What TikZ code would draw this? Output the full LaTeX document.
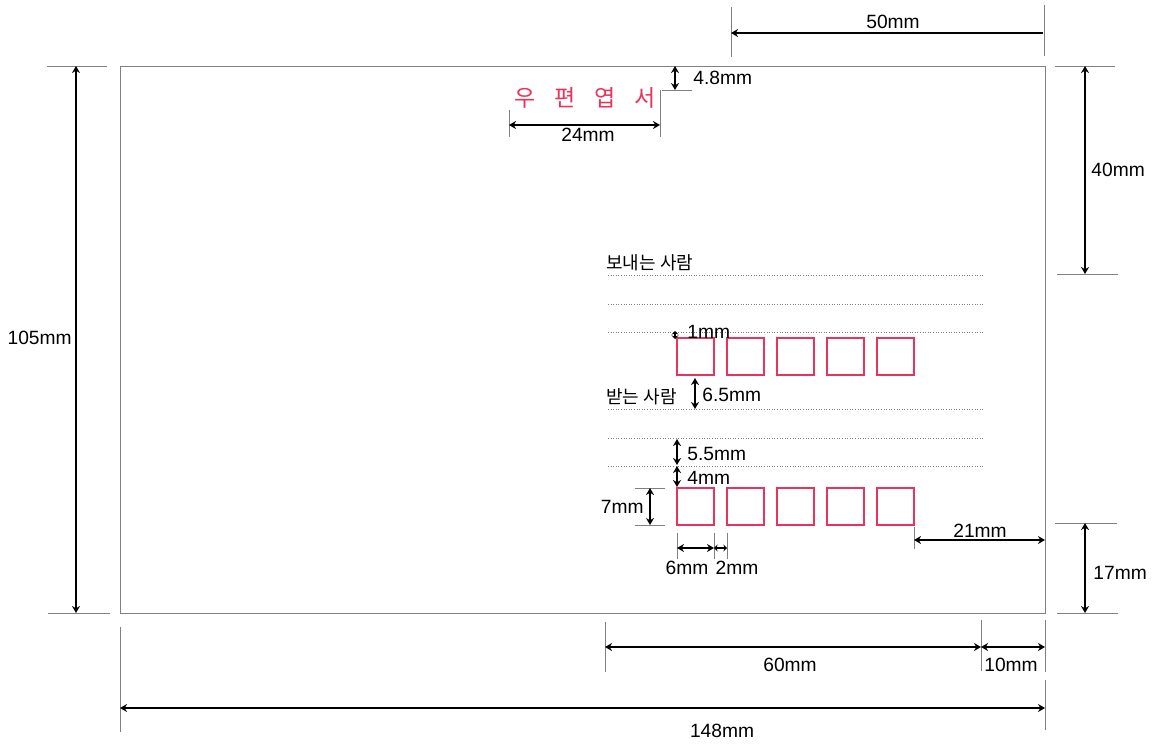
\documentclass[tikz,border=0pt]{standalone}
\usepackage{fontspec}
\usepackage{tikz}
\usepackage{xcolor}
\usetikzlibrary{calc,arrows.meta}
\setmainfont{Liberation Sans}
\newfontfamily\krfont{Noto Sans CJK KR}
\definecolor{stampredc}{HTML}{E8335A}
\colorlet{guidec}{black!50}
\tikzstyle{card} =[
    draw=guidec,
    line width=0.45pt
    ]
\tikzstyle{ext} =[
    draw=guidec,
    line width=0.45pt
    ]
\tikzstyle{dim} =[
    line width=1.1pt,
    {Stealth[length=3.5pt,width=4pt]}-{Stealth[length=3.5pt,width=4pt]}
    ]
\tikzstyle{tinydim} =[
    line width=1.1pt,
    {Stealth[length=1.8pt,width=3.5pt]}-{Stealth[length=1.8pt,width=3.5pt]}
    ]
\tikzstyle{lbl} =[
    font=\fontsize{9.6}{11}\selectfont,
    inner sep=1pt
    ]
\tikzstyle{krlbl} =[
    font=\krfont\fontsize{9}{10}\selectfont,
    inner sep=1pt
    ]
\tikzstyle{zipbox} =[
    draw=stampredc,
    line width=0.75pt,
    minimum size=18.5pt,
    inner sep=0pt
    ]
\tikzstyle{writeline} =[
    draw=guidec,
    line width=0.5pt,
    dash pattern=on 0.4pt off 0.9pt
    ]

\begin{document}
\begin{tikzpicture}[x=0.5pt,y=-0.5pt]
\useasboundingbox (0,0) rectangle (1154,744);

% card outline
\draw[card] (120,66) coordinate (cardnw) rectangle (1045,613) coordinate (cardse);
\coordinate (cardne) at (1045,66);
\coordinate (cardsw) at (120,613);

% title
\node[font=\krfont\fontsize{11.5}{12}\selectfont, text=stampredc, inner sep=0pt] (title)
    at (585,98) {\spaceskip=9.5pt 우 편 엽 서};

% writing lines
\foreach \y/\n in {275/s1,304/s2,332/s3,409/r1,438/r2,466/r3}
    \draw[writeline] (608,\y) coordinate (\n w) -- (984,\y) coordinate (\n e);
\node[krlbl, anchor=south west] (sender) at (604,273) {보내는 사람};
\node[krlbl, anchor=south west] (receiver) at (604,407) {받는 사람};

% zip code boxes
\foreach \i in {0,...,4}{
    \node[zipbox] (top\i) at ({695.5+50*\i},356.5) {};
    \node[zipbox] (bot\i) at ({695.5+50*\i},506.5) {};
}

% 50mm
\draw[ext] (731,7) -- (731,57);
\draw[ext] (1044,5) -- (1044,56);
\draw[line width=1.1pt, -{Stealth[length=3.5pt,width=4pt]}] (1043,33) -- (731,33);
\node[lbl] (l50) at (893,22) {50mm};

% 105mm
\draw[ext] (47,66) -- (107,66);
\draw[ext] (48,613) -- (110,613);
\draw[dim] (76,66) -- (76,613);
\node[lbl, anchor=east] (l105) at (74,338) {105mm};

% 40mm and 17mm
\draw[ext] (1055,66) -- (1115,66);
\draw[ext] (1057,274) -- (1118,274);
\draw[dim] (1085,66) -- (1085,274);
\node[lbl, anchor=west] (l40) at (1089,170) {40mm};
\draw[ext] (1055,523) -- (1117,523);
\draw[ext] (1057,613) -- (1118,613);
\draw[dim] (1085,523) -- (1085,613);
\node[lbl, anchor=west] (l17) at (1091,573) {17mm};

% 60mm, 10mm, 148mm
\draw[ext] (605,622) -- (605,672);
\draw[ext] (981,620) -- (981,671);
\draw[ext] (1045,620) -- (1045,672);
\draw[dim] (605,647) -- (981,647);
\draw[dim] (981,647) -- (1045,647);
\node[lbl] (l60) at (790,665) {60mm};
\node[lbl] (l10) at (1011,665) {10mm};
\draw[ext] (120,627) -- (120,732);
\draw[ext] (1045,680) -- (1045,730);
\draw[dim] (120,708) -- (1045,708);
\node[lbl] (l148) at (722,731) {148mm};

% 4.8mm and 24mm
\draw[ext] (662,90) -- (692,90);
\draw[dim] (675,66) -- (675,90);
\node[lbl, anchor=west] (l48) at (691,78) {4.8mm};
\draw[ext] (509,110) -- (509,137);
\draw[ext] (660,90) -- (660,137);
\draw[dim] (509,125) -- (660,125);
\node[lbl] (l24) at (588,135) {24mm};

% spacings
\draw[tinydim] (675,331) -- (675,339);
\node[lbl, anchor=west] (l1) at (685,332) {1mm};
\draw[dim] (695,378) -- (695,409);
\node[lbl, anchor=west] (l65) at (700,395) {6.5mm};
\draw[dim] (677,439) -- (677,465);
\node[lbl, anchor=west] (l55) at (685,454) {5.5mm};
\draw[dim] (677,466) -- (677,487);
\node[lbl, anchor=west] (l4) at (685,478) {4mm};

% box sizes
\draw[ext] (635,488) -- (665,488);
\draw[ext] (635,525) -- (665,525);
\draw[dim] (650,488) -- (650,525);
\node[lbl, anchor=east] (l7) at (646,507) {7mm};
\draw[ext] (677,533) -- (677,559);
\draw[ext] (714,533) -- (714,559);
\draw[ext] (727,533) -- (727,559);
\draw[dim] (677,548) -- (714,548);
\draw[tinydim] (714,548) -- (727,548);
\node[lbl] (l6) at (687,568) {6mm};
\node[lbl] (l2) at (737,568) {2mm};

% 21mm
\draw[ext] (914,527) -- (914,549);
\draw[dim] (914,540) -- (1045,540);
\node[lbl] (l21) at (980,531) {21mm};
\end{tikzpicture}
\end{document}
